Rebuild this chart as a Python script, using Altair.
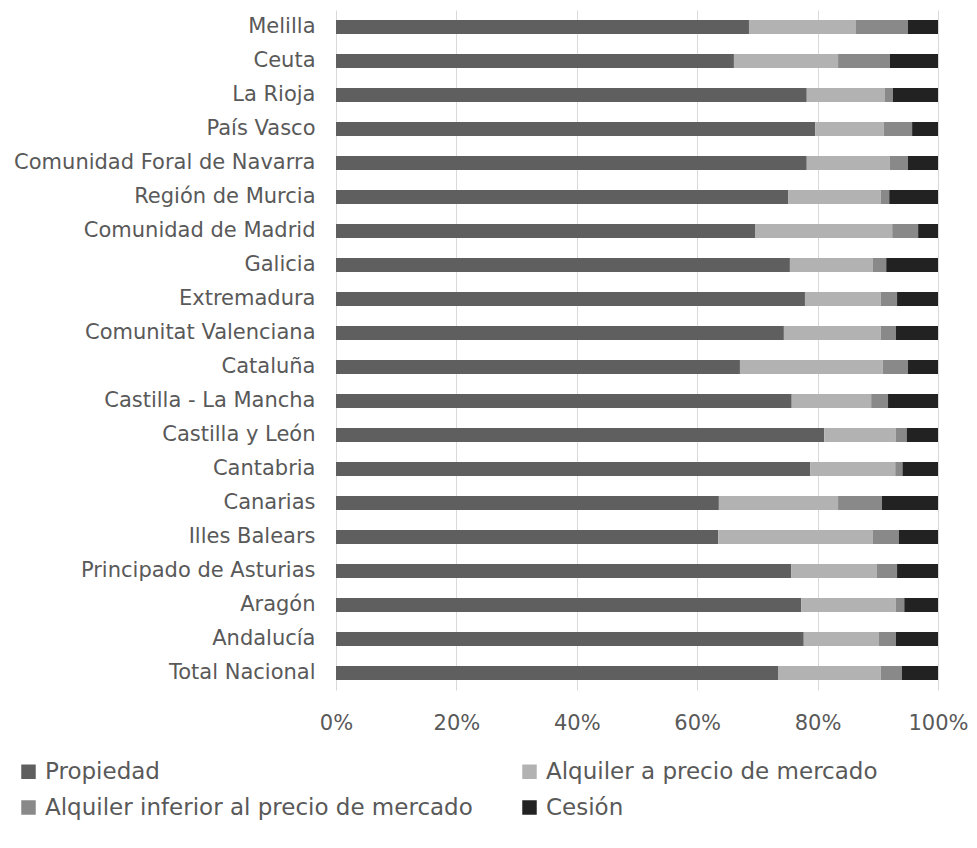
import altair as alt
import pandas as pd

regions = [
    "Melilla", "Ceuta", "La Rioja", "País Vasco", "Comunidad Foral de Navarra",
    "Región de Murcia", "Comunidad de Madrid", "Galicia", "Extremadura",
    "Comunitat Valenciana", "Cataluña", "Castilla - La Mancha", "Castilla y León",
    "Cantabria", "Canarias", "Illes Balears", "Principado de Asturias", "Aragón",
    "Andalucía", "Total Nacional",
]
propiedad = [68.6, 66.1, 78.2, 79.6, 78.2, 75.1, 69.6, 75.4, 77.9, 74.4,
             67.1, 75.7, 81.1, 78.8, 63.6, 63.5, 75.6, 77.3, 77.7, 73.5]
alquiler_mercado = [17.7, 17.3, 13.0, 11.4, 13.8, 15.4, 22.8, 13.8, 12.6, 16.1,
                    23.7, 13.2, 11.9, 14.1, 19.8, 25.7, 14.2, 15.7, 12.5, 17.0]
alquiler_inferior = [8.7, 8.6, 1.3, 4.7, 3.0, 1.4, 4.3, 2.2, 2.7, 2.5,
                     4.2, 2.8, 1.8, 1.2, 7.3, 4.3, 3.4, 1.4, 2.8, 3.5]
cesion = [5.0, 8.0, 7.5, 4.3, 5.0, 8.1, 3.3, 8.6, 6.8, 7.0,
          5.0, 8.3, 5.2, 5.9, 9.3, 6.5, 6.8, 5.6, 7.0, 6.0]

series = ["Propiedad", "Alquiler a precio de mercado",
          "Alquiler inferior al precio de mercado", "Cesión"]
colors = ["#5f5f5f", "#b2b2b2", "#898989", "#222222"]

rows = []
for i, r in enumerate(regions):
    for k, (name, vals) in enumerate(zip(series, [propiedad, alquiler_mercado, alquiler_inferior, cesion])):
        rows.append({"region": r, "serie": name, "valor": vals[i], "orden": k})
df = pd.DataFrame(rows)

FONT = "DejaVu Sans"

chart = alt.Chart(df).mark_bar(size=14).encode(
    y=alt.Y("region:N", sort=regions, title=None,
            axis=alt.Axis(ticks=False, domain=False, labelFontSize=21,
                          labelColor="#595959", labelPadding=21, labelLimit=400,
                          labelFont=FONT)),
    x=alt.X("valor:Q", stack="normalize", title=None,
            scale=alt.Scale(domain=[0, 1], nice=False),
            axis=alt.Axis(format="%", values=[0, 0.2, 0.4, 0.6, 0.8, 1.0],
                          ticks=False, domain=False, grid=True,
                          gridColor="#d9d9d9", gridWidth=1,
                          labelFontSize=21, labelColor="#595959",
                          labelPadding=22, labelFont=FONT,
                          labelFlush=False)),
    color=alt.Color("serie:N", sort=series,
                    scale=alt.Scale(domain=series, range=colors),
                    legend=alt.Legend(title=None, orient="none",
                                      legendX=-319, legendY=750,
                                      columns=2, direction="horizontal",
                                      columnPadding=45,
                                      rowPadding=12,
                                      symbolType="square", symbolSize=210,
                                      symbolStrokeWidth=0,
                                      labelFontSize=23, labelColor="#595959",
                                      labelFont=FONT, labelLimit=700,
                                      labelOffset=5)),
    order=alt.Order("orden:Q"),
).properties(
    width=602, height=680,
    autosize=alt.AutoSizeParams(type="none"),
    padding={"left": 328, "top": 2, "right": 31, "bottom": 140},
).configure_view(stroke=None)

chart.save("out.html", embed_options={"renderer": "svg", "actions": False})
